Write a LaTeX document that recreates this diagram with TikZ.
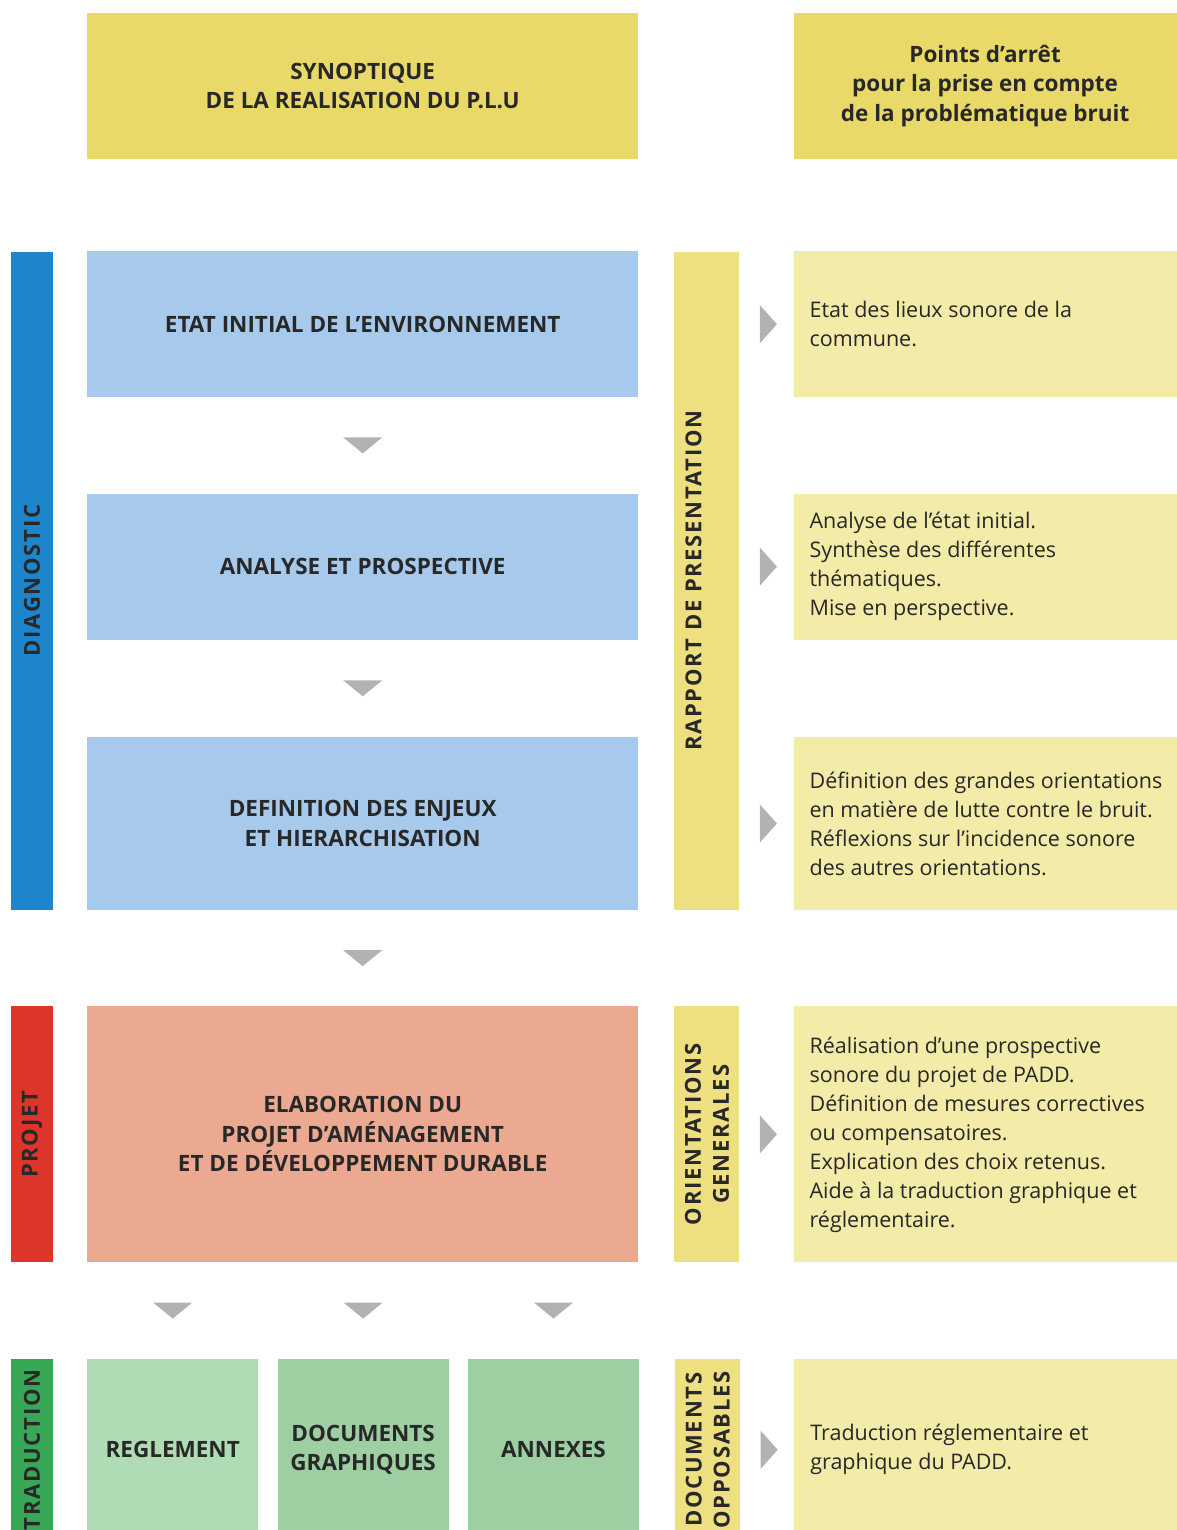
\documentclass[tikz,border=0pt]{standalone}
\usepackage{fontspec}
\setmainfont{Open Sans}
\newfontfamily\spacedfont[LetterSpace=8]{Open Sans}
\usetikzlibrary{positioning, calc}
\definecolor{headyellow}{RGB}{233,217,104}
\definecolor{paleyellow}{RGB}{243,235,168}
\definecolor{baryellow}{RGB}{238,224,128}
\definecolor{diagblue}{RGB}{29,133,204}
\definecolor{lightblue}{RGB}{167,202,236}
\definecolor{projred}{RGB}{221,53,42}
\definecolor{salmon}{RGB}{236,169,145}
\definecolor{tradgreen}{RGB}{56,168,86}
\definecolor{palegreen}{RGB}{175,219,181}
\definecolor{midgreen}{RGB}{158,207,163}
\definecolor{markgray}{RGB}{178,178,178}
\definecolor{inkgray}{RGB}{40,40,40}

\begin{document}
\begin{tikzpicture}[
        x=1pt, y=-1pt,
        node distance=96pt,
        box/.style={rectangle, inner sep=0pt, minimum width=551pt, align=center, text=inkgray, font=\fontsize{22.5}{29.5}\selectfont\bfseries},
        note/.style={rectangle, fill=paleyellow, inner xsep=16pt, inner ysep=0pt, text width=380pt, minimum height=146pt, align=flush left, text=inkgray, font=\fontsize{21.5}{29}\selectfont},
        sidebar/.style={rectangle, rotate=90, inner sep=0pt, minimum height=42pt, align=center, text=inkgray, font=\fontsize{22}{28}\selectfont\spacedfont\bfseries},
        midbar/.style={sidebar, fill=baryellow, minimum height=65pt}
    ]
        \useasboundingbox (0,0) rectangle (1176,1530);

        \node[box, fill=lightblue, minimum height=146pt, anchor=north west] (etat) at (87,251) {ETAT INITIAL DE L’ENVIRONNEMENT};
        \node[box, fill=lightblue, minimum height=146pt, below=96pt of etat] (analyse) {ANALYSE ET PROSPECTIVE};
        \node[box, fill=lightblue, minimum height=173pt, below=97pt of analyse] (enjeux) {DEFINITION DES ENJEUX\\ET HIERARCHISATION};
        \node[box, fill=salmon, minimum height=256pt, below=96pt of enjeux] (padd) {ELABORATION DU\\PROJET D’AMÉNAGEMENT\\ET DE DÉVELOPPEMENT DURABLE};
        \node[box, fill=palegreen, minimum width=171pt, minimum height=182pt, below=96pt of padd.south west, anchor=north west] (reglement) {REGLEMENT};
        \node[box, fill=midgreen, minimum width=171pt, minimum height=182pt, right=19pt of reglement] (graphiques) {DOCUMENTS\\GRAPHIQUES};
        \node[box, fill=midgreen, minimum width=171pt, minimum height=182pt, right=19pt of graphiques] (annexes) {ANNEXES};

        \node[box, fill=headyellow, minimum height=146pt, above=92pt of etat] (synoptique) {SYNOPTIQUE\\DE LA REALISATION DU P.L.U};
        \node[box, fill=headyellow, minimum width=383pt, minimum height=146pt, right=155pt of synoptique] (points) {Points d’arrêt\\pour la prise en compte\\de la problématique bruit};

        \node[note, right=155pt of etat] (n1) {Etat des lieux sonore de la\\commune.};
        \node[note, right=155pt of analyse] (n2) {Analyse de l’état initial.\\Synthèse des différentes\\thématiques.\\Mise en perspective.};
        \node[note, minimum height=173pt, right=155pt of enjeux] (n3) {Définition des grandes orientations\\en matière de lutte contre le bruit.\\Réflexions sur l’incidence sonore\\des autres orientations.};
        \node[note, minimum height=256pt, right=155pt of padd] (n4) {Réalisation d’une prospective\\sonore du projet de PADD.\\Définition de mesures correctives\\ou compensatoires.\\Explication des choix retenus.\\Aide à la traduction graphique et\\réglementaire.};
        \node[note, minimum height=182pt, right=155pt of annexes] (n5) {Traduction réglementaire et\\graphique du PADD.};

        \node[sidebar, fill=diagblue, minimum width=658pt] (diag) at ($(etat.north west)!0.5!(enjeux.south west)+(-55,0)$) {DIAGNOSTIC};
        \node[sidebar, fill=projred, minimum width=256pt] (projet) at ($(padd.west)+(-55,0)$) {PROJET};
        \node[sidebar, fill=tradgreen, minimum width=182pt] (trad) at ($(reglement.west)+(-55,0)$) {TRADUCTION};

        \node[midbar, minimum width=658pt] (rapport) at ($(etat.north east)!0.5!(enjeux.south east)+(68.5,0)$) {\raisebox{5.5pt}[0pt][0pt]{RAPPORT DE PRESENTATION}};
        \node[midbar, minimum width=256pt] (orient) at ($(padd.east)+(68.5,0)$) {ORIENTATIONS\\GENERALES};
        \node[midbar, minimum width=182pt] (opposables) at ($(annexes.east)+(68.5,0)$) {DOCUMENTS\\OPPOSABLES};

        \foreach \a/\b in {etat.south/analyse.north, analyse.south/enjeux.north, enjeux.south/padd.north, padd.south-|reglement.north/reglement.north, padd.south-|graphiques.north/graphiques.north, padd.south-|annexes.north/annexes.north}
            \fill[markgray] ($(\a)!0.5!(\b)$) +(-19.5,-8) -- +(19.5,-8) -- +(0,8) -- cycle;
        \foreach \n in {n1,n2,n3,n4,n5}
            \fill[markgray] ($(\n.west)+(-25,0)$) +(-8.5,-19) -- +(8.5,0) -- +(-8.5,19) -- cycle;
    \end{tikzpicture}
\end{document}
